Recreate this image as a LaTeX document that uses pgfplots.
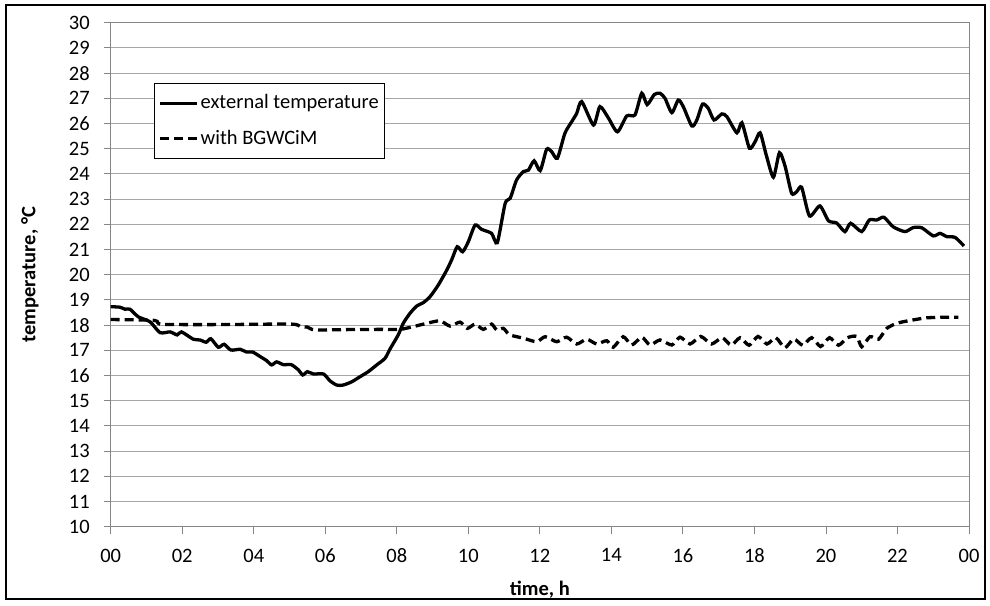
\documentclass[border=0pt]{standalone}
\usepackage{pgfplots}
\pgfplotsset{compat=1.18}
\usepackage{fontspec}
\setmainfont{Carlito}
\definecolor{gridc}{HTML}{A6A6A6}
\definecolor{axc}{HTML}{868686}
\newcommand{\fs}{\fontsize{20.5pt}{24pt}\selectfont}
\begin{document}
\fs
\begin{tikzpicture}
\begin{axis}[
  scale only axis,
  width=858.3pt, height=504pt,
  xmin=0, xmax=24, ymin=10, ymax=30,
  xtick={0,2,...,24},
  xticklabels={00,02,04,06,08,10,12,14,16,18,20,22,00},
  ytick={10,11,...,30},
  ymajorgrids,
  grid style={gridc, line width=0.9pt},
  axis line style={axc, line width=0.9pt},
  tick style={axc, line width=0.9pt},
  tick align=outside,
  major tick length=7pt,
  tick pos=left,
  /pgf/number format/assume math mode=true,
  ticklabel style={font=\fs},
  yticklabel style={xshift=-7pt},
  xticklabel style={yshift=-8pt},
  xlabel={\textbf{time, h}},
  ylabel={\textbf{temperature, °C}},
  label style={font=\fs},
  xlabel style={at={(axis description cs:0.5,-0.125)}, anchor=center},
  ylabel style={at={(axis description cs:-0.094,0.5)}, anchor=center, rotate=0},
  legend style={at={(axis description cs:0.0504,0.880)}, anchor=north west,
    draw=black, line width=0.8pt, fill=white,
    font=\fs,
    inner xsep=4pt, inner ysep=9pt, row sep=14pt,
    /tikz/every even column/.append style={column sep=0pt}},
  legend cell align=left,
  legend image code/.code={\draw[#1] (0pt,0pt) -- (37pt,0pt);},
]
\addplot[black, line width=3.3pt, smooth, tension=0.4] coordinates {
(0,18.73) (0.26,18.71) (0.40,18.63) (0.54,18.63) (0.77,18.33) (1.10,18.13)
(1.38,17.70) (1.66,17.73) (1.86,17.61) (1.98,17.73) (2.31,17.44) (2.50,17.41)
(2.67,17.32) (2.80,17.46) (3.01,17.12) (3.17,17.24) (3.36,17.01) (3.62,17.04)
(3.80,16.93) (3.97,16.93) (4.18,16.75) (4.36,16.59) (4.50,16.42) (4.64,16.54)
(4.83,16.43) (5.05,16.43) (5.25,16.22) (5.37,16.02) (5.50,16.15) (5.67,16.06)
(5.95,16.06) (6.13,15.79) (6.32,15.62) (6.50,15.62) (6.74,15.75) (6.97,15.95)
(7.20,16.15) (7.44,16.42) (7.67,16.68) (7.81,17.05) (8.04,17.61) (8.18,18.07)
(8.37,18.47) (8.56,18.76) (8.74,18.89) (8.93,19.13) (9.16,19.59) (9.40,20.19)
(9.54,20.61) (9.69,21.11) (9.84,20.91) (10.0,21.31) (10.19,21.97) (10.37,21.80)
(10.65,21.64) (10.81,21.27) (11.03,22.83) (11.17,23.03) (11.35,23.76) (11.54,24.09)
(11.68,24.15) (11.84,24.52) (12.01,24.13) (12.19,24.98) (12.33,24.88) (12.49,24.62)
(12.70,25.61) (12.89,26.07) (13.03,26.40) (13.17,26.87) (13.50,25.94) (13.68,26.67)
(13.92,26.21) (14.17,25.67) (14.43,26.30) (14.66,26.34) (14.85,27.2) (15.0,26.75)
(15.2,27.15) (15.36,27.2) (15.5,27.0) (15.69,26.43) (15.87,26.93) (16.01,26.67)
(16.25,25.90) (16.39,26.14) (16.55,26.77) (16.71,26.60) (16.87,26.14) (17.09,26.38)
(17.23,26.27) (17.51,25.63) (17.65,26.03) (17.86,25.02) (18.02,25.28) (18.16,25.63)
(18.33,24.75) (18.53,23.87) (18.70,24.84) (18.86,24.29) (19.04,23.23) (19.18,23.29)
(19.32,23.47) (19.54,22.33) (19.83,22.73) (20.07,22.14) (20.30,22.05) (20.53,21.71)
(20.69,22.04) (21.00,21.71) (21.21,22.17) (21.42,22.17) (21.62,22.28) (21.88,21.90)
(22.21,21.71) (22.44,21.87) (22.68,21.86) (23.0,21.54) (23.19,21.64) (23.38,21.51)
(23.61,21.48) (23.86,21.14)
};
\addlegendentry{external temperature}
\addplot[black, line width=3.3pt, dash pattern=on 9pt off 5pt, smooth, tension=0.4] coordinates {
(0,18.22) (1.1,18.2) (1.3,18.15) (1.45,18.03) (3.0,18.02) (5.04,18.04) (5.3,17.94)
(5.5,17.92) (5.7,17.81) (6.5,17.82) (7.53,17.83) (8.09,17.83) (8.46,17.94)
(8.84,18.07) (9.21,18.17) (9.49,17.96) (9.77,18.12) (9.97,17.87) (10.19,18.04)
(10.42,17.83) (10.65,18.04) (10.79,17.81) (10.98,17.87) (11.12,17.65) (11.26,17.57)
(11.54,17.48) (11.91,17.34) (12.15,17.54) (12.47,17.34) (12.75,17.52) (13.03,17.25)
(13.31,17.44) (13.59,17.25) (13.87,17.38) (14.05,17.12) (14.33,17.54) (14.57,17.21)
(14.85,17.52) (15.08,17.21) (15.36,17.41) (15.69,17.21) (15.92,17.52) (16.2,17.25)
(16.5,17.55) (16.8,17.25) (17.1,17.5) (17.35,17.2) (17.6,17.5) (17.85,17.2)
(18.1,17.55) (18.35,17.25) (18.6,17.5) (18.85,17.1) (19.1,17.45) (19.35,17.2)
(19.6,17.5) (19.85,17.15) (20.1,17.5) (20.35,17.2) (20.6,17.5) (20.86,17.55)
(21.0,17.14) (21.23,17.54) (21.47,17.44) (21.70,17.87) (21.98,18.07) (22.26,18.16)
(22.54,18.23) (22.82,18.29) (23.3,18.31) (23.70,18.31)
};
\addlegendentry{with BGWCiM}
\end{axis}
\draw[black, line width=2.5pt] (-104.7pt,-72.3pt) rectangle (874.3pt,521.7pt);
\path[use as bounding box] (-110.7pt,-76.3pt) rectangle (879.3pt,526.7pt);
\end{tikzpicture}
\end{document}
